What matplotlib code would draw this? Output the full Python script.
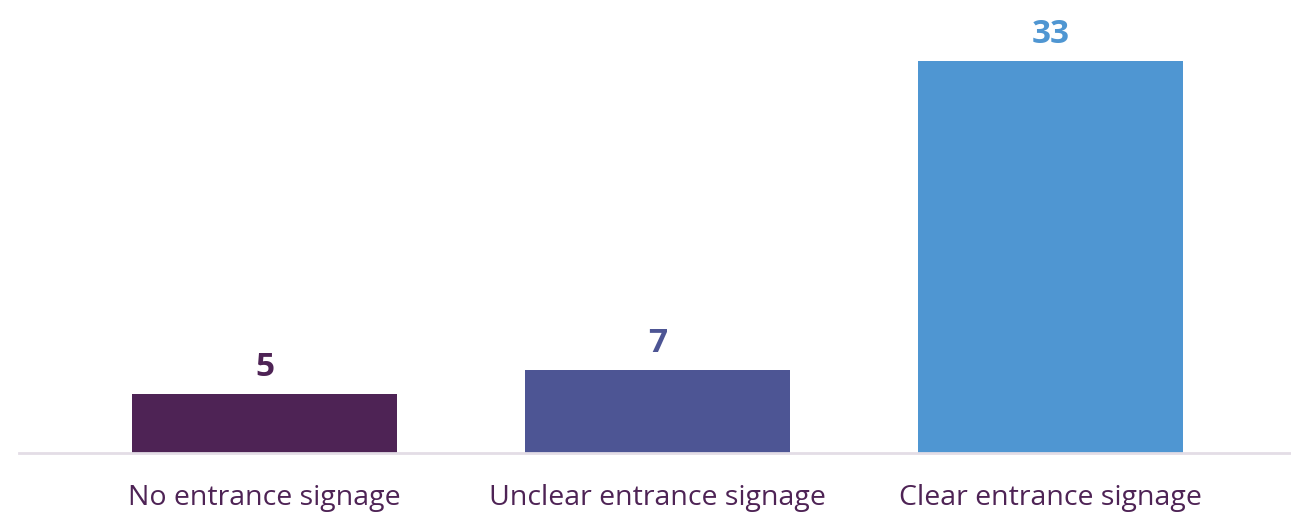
import matplotlib
matplotlib.use("Agg")
import matplotlib.pyplot as plt

categories = ["No entrance signage", "Unclear entrance signage", "Clear entrance signage"]
counts = [5, 7, 33]
bar_colors = ["#4E2355", "#4D5594", "#4F96D2"]
label_color = "#4E2355"

plt.rcParams["font.family"] = ["Open Sans", "DejaVu Sans"]

fig = plt.figure(figsize=(12.91, 5.13), dpi=100)
ax = fig.add_axes([19 / 1291, 60 / 513, 1 - 19 / 1291, 453 / 513])

x = range(len(categories))
bars = ax.bar(x, counts, width=0.674, color=bar_colors, zorder=2)

for bar, val, col in zip(bars, counts, bar_colors):
    ax.annotate(str(val), (bar.get_x() + bar.get_width() / 2, val),
                xytext=(0, 7), textcoords="offset points",
                ha="center", va="bottom", fontsize=24, fontweight="bold", color=col)

ax.set_xlim(-0.625, 2.612)
ax.set_ylim(0, 38.1)
ax.set_xticks(list(x))
ax.set_xticklabels(categories, fontsize=20.5, color=label_color)
ax.tick_params(axis="x", length=0, pad=22)
ax.set_yticks([])

for side in ("top", "right", "left"):
    ax.spines[side].set_visible(False)
ax.spines["bottom"].set_color("#E3DDE6")
ax.spines["bottom"].set_linewidth(2)

fig.savefig("out.png", dpi=100)
